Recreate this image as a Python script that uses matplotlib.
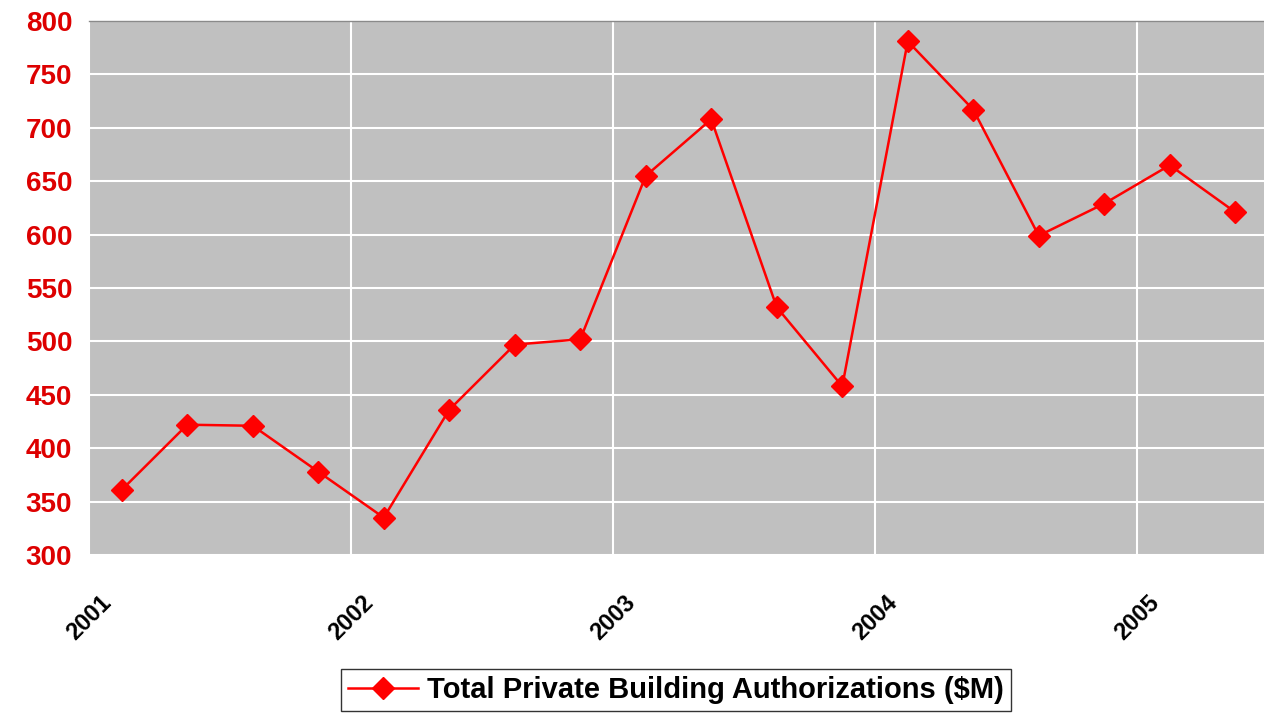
import matplotlib
matplotlib.use("Agg")
import matplotlib.pyplot as plt

quarters = ["2001Q1", "2001Q2", "2001Q3", "2001Q4", "2002Q1", "2002Q2", "2002Q3", "2002Q4",
            "2003Q1", "2003Q2", "2003Q3", "2003Q4", "2004Q1", "2004Q2", "2004Q3", "2004Q4",
            "2005Q1", "2005Q2"]
values = [361, 422, 421, 378, 335, 436, 497, 502, 655, 708, 532, 458, 781, 717, 599, 629, 665, 621]
year_ticks = [2001, 2002, 2003, 2004, 2005]
year_labels = ["2001", "2002", "2003", "2004", "2005"]
series_name = "Total Private Building Authorizations ($M)"

plt.rcParams['font.family'] = ['Liberation Sans', 'DejaVu Sans']

x = [int(q[:4]) + (int(q[-1]) - 1) * 0.25 + 0.125 for q in quarters]

fig = plt.figure(figsize=(12.64, 7.15), dpi=100)
ax = fig.add_axes([89 / 1264, 1 - 555 / 715, 1179 / 1264, (555 - 21) / 715])
ax.set_facecolor("#C0C0C0")
ax.set_xlim(2001, 2005.5)
ax.set_ylim(300, 800)
ax.set_yticks(range(300, 801, 50))
ax.set_xticks(year_ticks)
ax.set_xticklabels(year_labels, rotation=45, ha="center", va="top",
                   fontsize=17, fontweight="bold", color="black")
ax.tick_params(axis="x", length=0, pad=26)
ax.tick_params(axis="y", length=0, pad=12, labelsize=20, labelcolor="#DD0000")
for lab in ax.get_yticklabels():
    lab.set_fontweight("bold")
ax.grid(True, color="white", linewidth=1.5)
ax.set_axisbelow(True)
for s in ["left", "right", "bottom"]:
    ax.spines[s].set_visible(False)
ax.spines["top"].set_color("#8a8a8a")
ax.spines["top"].set_linewidth(1.0)

ax.plot(x, values, color="#FF0000", linewidth=1.8, marker="D", markersize=11,
        markerfacecolor="#FF0000", markeredgecolor="#FF0000", label=series_name,
        clip_on=False, zorder=3)

leg = fig.legend(loc="center", bbox_to_anchor=(676 / 1264, 1 - 690 / 715),
                 frameon=True, fancybox=False, edgecolor="black",
                 prop={"weight": "bold", "size": 21}, handlelength=2.4,
                 borderpad=0.25, handletextpad=0.3)
leg.get_frame().set_linewidth(1.0)

fig.savefig("out.png", dpi=100)
